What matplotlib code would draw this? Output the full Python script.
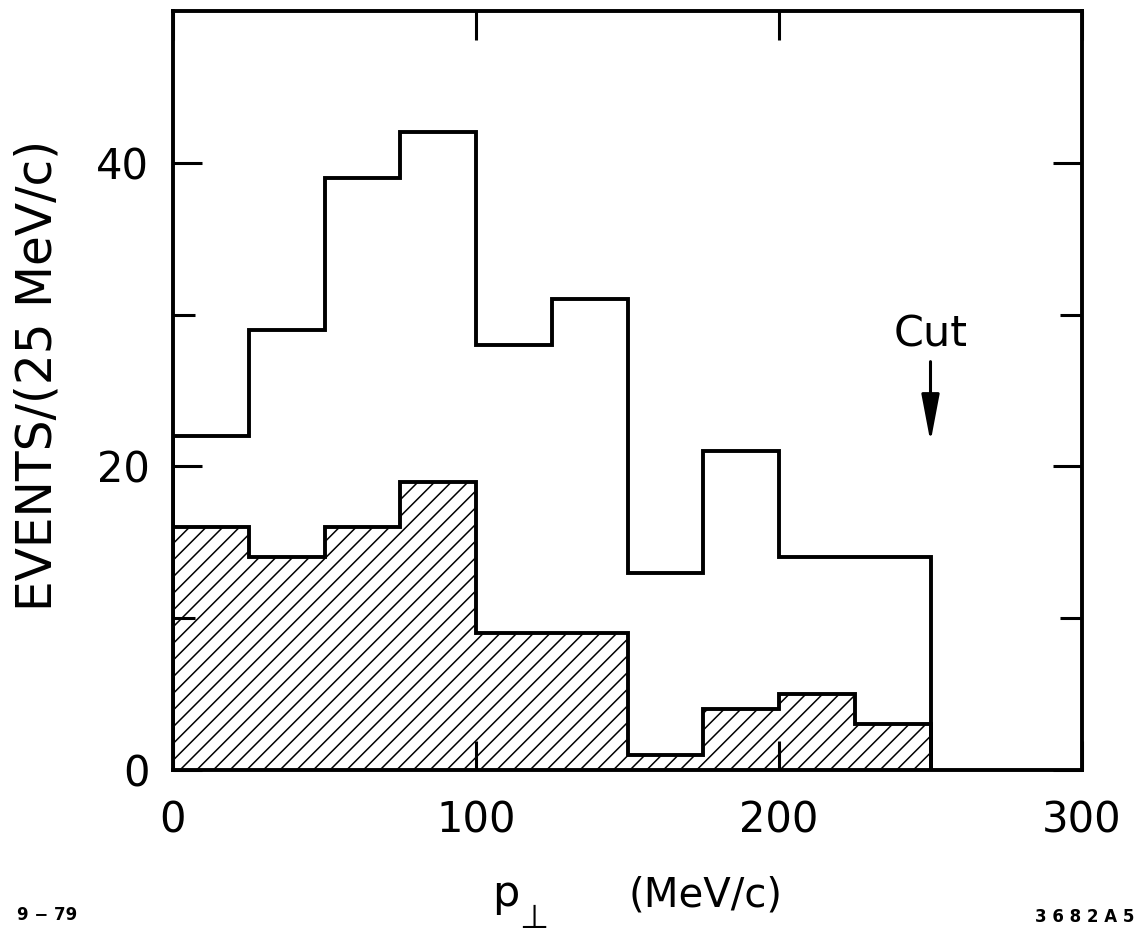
import numpy as np
import matplotlib
matplotlib.use('Agg')
import matplotlib.pyplot as plt

# bin edges of p_perp (MeV/c), 25 MeV/c wide
edges = [0, 25, 50, 75, 100, 125, 150, 175, 200, 225, 250]
# all events (open histogram)
all_events = [22, 29, 39, 42, 28, 31, 13, 21, 14, 14]
# hatched subset
hatched_events = [16, 14, 16, 19, 9, 9, 1, 4, 5, 3]

xticks = [0, 100, 200, 300]
yticks = [0, 20, 40]
yminor = [10, 30]
cut_pos = 250

plt.rcParams['font.family'] = ['DejaVu Sans']
plt.rcParams['hatch.linewidth'] = 1.1
plt.rcParams['hatch.color'] = 'black'

fig = plt.figure(figsize=(11.37, 9.35), dpi=100)
ax = fig.add_axes([173/1137, 1 - 770/935, (1082 - 173)/1137, (770 - 11)/935])

ax.stairs(hatched_events, edges, fill=True, facecolor='white', edgecolor='black',
          hatch='//', linewidth=2.8)
ax.stairs(all_events, edges, color='black', linewidth=2.8)

ax.set_xlim(0, 300)
ax.set_ylim(0, 50)

for s in ax.spines.values():
    s.set_linewidth(2.8)

ax.set_xticks(xticks)
ax.set_yticks(yticks)
ax.set_yticks(yminor, minor=True)
ax.tick_params(which='major', direction='in', length=21, width=2.2,
               top=True, right=True, labelsize=30, colors='black')
ax.tick_params(axis='x', which='major', pad=21)
ax.tick_params(axis='y', which='major', pad=17)
ax.tick_params(which='minor', direction='in', length=16, width=2.2, right=True)

# cut marker
ax.text(cut_pos, 27.9, 'Cut', ha='center', va='baseline', fontsize=31)
ax.annotate('', xy=(cut_pos, 21.6), xytext=(cut_pos, 26.9),
            arrowprops=dict(arrowstyle='-|>,head_length=2.9,head_width=0.55',
                            color='black', lw=2.2, shrinkA=0, shrinkB=0))

# axis labels
fig.text(38/1137, 1 - 375/935, 'EVENTS/(25 MeV/c)', rotation=90,
         ha='center', va='center', fontsize=35)
fig.text(519/1137, 1 - 906/935, 'p', ha='right', va='baseline', fontsize=31)
fig.text(519/1137, 1 - 928/935, '\u22a5', ha='left', va='baseline', fontsize=24)
fig.text(706/1137, 1 - 906/935, '(MeV/c)', ha='center', va='baseline', fontsize=29)

# plate numbers
fig.text(47/1137, 1 - 920/935, '9 \u2212 79', ha='center', va='baseline',
         fontsize=12, fontweight='bold')
fig.text(1085/1137, 1 - 922/935, '3 6 8 2 A 5', ha='center', va='baseline',
         fontsize=12, fontweight='bold')

fig.savefig('out.png', dpi=100)
